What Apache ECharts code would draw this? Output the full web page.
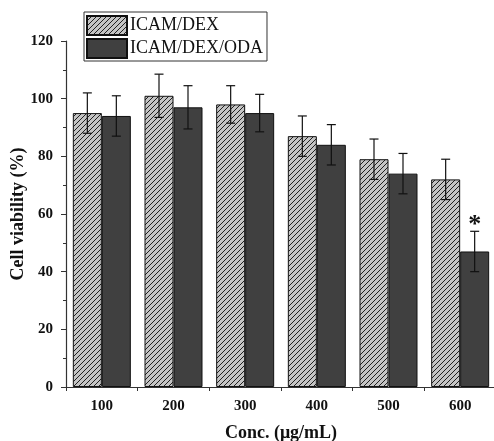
<!DOCTYPE html>
<html><head><meta charset="utf-8">
<script src="https://cdn.jsdelivr.net/npm/echarts@6/dist/echarts.min.js"></script>
<style>html,body{margin:0;padding:0;background:#fff}#c{width:494px;height:441px}</style>
</head><body><div id="c"></div>
<script>
const categories = ['100','200','300','400','500','600'];
const dexValues = [95, 101, 98, 87, 79, 72];
const dexErrors = [7, 7.5, 6.5, 7, 7, 7];
const odaValues = [94, 97, 95, 84, 74, 47];
const odaErrors = [7, 7.5, 6.5, 7, 7, 7];
const odaMarks = ['', '', '', '', '', '*'];
const seriesNames = ['ICAM/DEX', 'ICAM/DEX/ODA'];

function hatch() {
  const c = document.createElement('canvas');
  c.width = 5; c.height = 5;
  const g = c.getContext('2d');
  g.fillStyle = '#c4c4c4'; g.fillRect(0,0,5,5);
  g.strokeStyle = '#202020'; g.lineWidth = 1;
  g.beginPath();
  g.moveTo(-1,6); g.lineTo(6,-1);
  g.moveTo(-1,1); g.lineTo(1,-1);
  g.moveTo(4,6); g.lineTo(6,4);
  g.stroke();
  return c;
}

const BW = 29;
function errSeries(vals, errs, offset, marks) {
  return {
    type: 'custom',
    silent: true,
    z: 10,
    data: vals.map((v,i)=>[i, v - errs[i], v + errs[i], marks ? marks[i] : '']),
    renderItem: function(params, api) {
      const i = api.value(0);
      const lo = api.coord([i, api.value(1)]);
      const hi = api.coord([i, api.value(2)]);
      const x = lo[0] + offset;
      const hw = 4.5;
      const st = {stroke:'#111', lineWidth:1.2};
      const children = [
        {type:'line', shape:{x1:x,y1:lo[1],x2:x,y2:hi[1]}, style:st},
        {type:'line', shape:{x1:x-hw,y1:lo[1],x2:x+hw,y2:lo[1]}, style:st},
        {type:'line', shape:{x1:x-hw,y1:hi[1],x2:x+hw,y2:hi[1]}, style:st}
      ];
      const m = api.value(3);
      if (m) children.push({type:'text', style:{text:m, x:x, y:hi[1]-6, align:'center', verticalAlign:'middle', font:'bold 26px "Liberation Serif"', fill:'#111'}});
      return {type:'group', children};
    }
  };
}

const chart = echarts.init(document.getElementById('c'), null, {renderer:'canvas'});
const font = '"Liberation Serif", "Times New Roman", serif';
chart.setOption({
  animation: false,
  grid: {left: 66, top: 41, bottom: 54, right: -2, containLabel: false, outerBoundsMode: 'none'},
  legend: {
    left: 84, top: 12, orient: 'vertical', itemWidth: 40, itemHeight: 19, itemGap: 2,
    icon: 'rect',
    padding: [3, 4, 2, 2], borderColor: '#333', borderWidth: 1,
    textStyle: {fontFamily: font, fontSize: 18, color: '#111', padding:[0,0,0,-2]},
    data: seriesNames
  },
  xAxis: {
    type: 'category', data: categories,
    name: 'Conc. (μg/mL)', nameLocation: 'middle', nameGap: 37, nameMoveOverlap: false,
    nameTextStyle: {fontFamily: font, fontWeight: 'bold', fontSize: 18, color: '#111'},
    axisLine: {lineStyle: {color: '#333', width: 1.2}},
    axisTick: {show: true, alignWithLabel: false, length: 4, lineStyle:{color:'#333'}},
    axisLabel: {fontFamily: font, fontWeight: 'bold', fontSize: 15, color: '#111', margin: 12}
  },
  yAxis: {
    type: 'value', min: 0, max: 120, interval: 20,
    name: 'Cell viability (%)', nameLocation: 'middle', nameGap: 39, nameMoveOverlap: false,
    nameTextStyle: {fontFamily: font, fontWeight: 'bold', fontSize: 18, color: '#111'},
    axisLine: {show: true, lineStyle: {color: '#333', width: 1.2}},
    axisTick: {show: true, length: 5, lineStyle:{color:'#333'}},
    minorTick: {show: true, splitNumber: 2, length: 3, lineStyle:{color:'#333'}},
    splitLine: {show: false},
    axisLabel: {fontFamily: font, fontWeight: 'bold', fontSize: 15, color: '#111', margin: 13}
  },
  series: [
    {name: seriesNames[0], type: 'bar', data: dexValues, barWidth: BW, barGap: '0%',
     itemStyle: {color: {image: hatch(), repeat: 'repeat'}, borderColor: '#111', borderWidth: 1}},
    {name: seriesNames[1], type: 'bar', data: odaValues, barWidth: BW,
     itemStyle: {color: '#404040', borderColor: '#111', borderWidth: 1}},
    errSeries(dexValues, dexErrors, -BW/2, null),
    errSeries(odaValues, odaErrors, BW/2, odaMarks)
  ]
});
</script></body></html>
